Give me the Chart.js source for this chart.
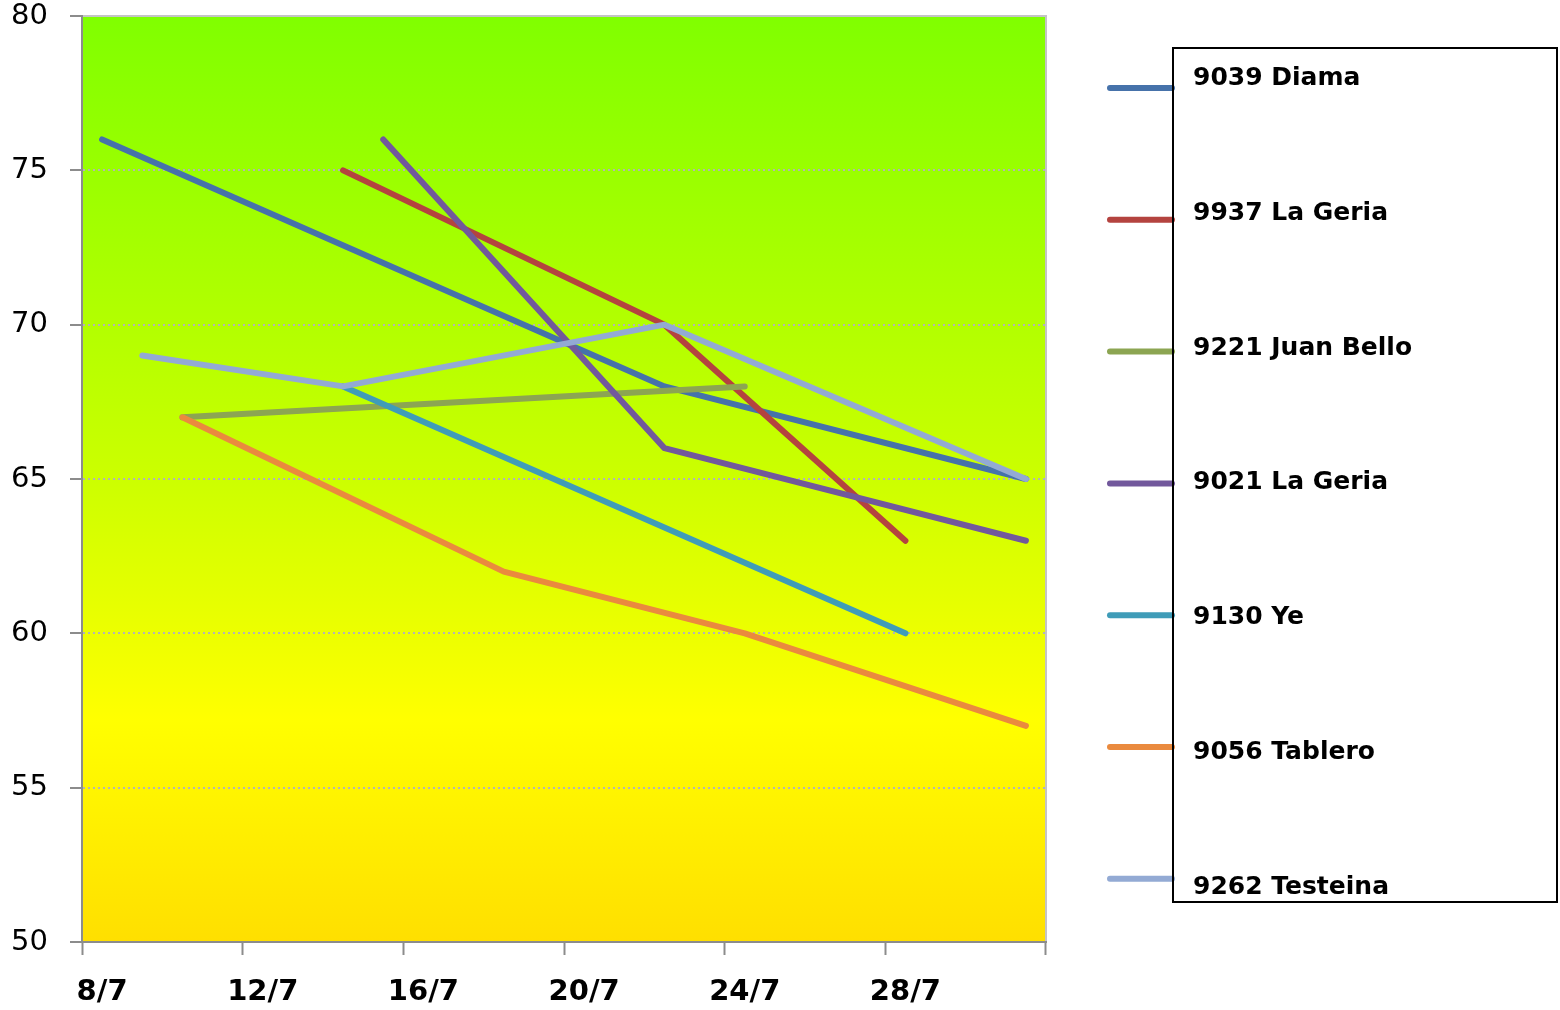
<!DOCTYPE html>
<html>
<head>
<meta charset="utf-8">
<script src="https://cdn.jsdelivr.net/npm/chart.js@4/dist/chart.umd.min.js"></script>
<style>
  html, body { margin: 0; padding: 0; background: #fff; }
  #wrap { width: 1560px; height: 1010px; }
</style>
</head>
<body>
<div id="wrap"><canvas id="chart"></canvas></div>
<script>
// days 8/7 .. 31/7, one slot per day
var days = [];
for (var d = 8; d <= 31; ++d) days.push(d + '/7');

var names = ['9039 Diama', '9937 La Geria', '9221 Juan Bello', '9021 La Geria', '9130 Ye', '9056 Tablero', '9262 Testeina'];
var colors = ['#4672aa', '#b4433f', '#8ca552', '#72589c', '#3f9cb8', '#ea8a3e', '#93aad4'];

var _ = null;
//                0  1  2  3  4  5  6  7  8  9 10 11 12 13 14 15 16 17 18 19 20 21 22 23
var diama     = [76, _, _, _, _, _, _, _, _, _, _, _, _, _, 68, _, _, _, _, _, _, _, _, 65];
var geria9937 = [ _, _, _, _, _, _, 75, _, _, _, _, _, _, _, 70, _, _, _, _, _, 63, _, _, _];
var juanBello = [ _, _, 67, _, _, _, _, _, _, _, _, _, _, _, _, _, 68, _, _, _, _, _, _, _];
var geria9021 = [ _, _, _, _, _, _, _, 76, _, _, _, _, _, _, 66, _, _, _, _, _, _, _, _, 63];
var ye        = [ _, _, _, _, _, _, 68, _, _, _, _, _, _, _, _, _, _, _, _, _, 60, _, _, _];
var tablero   = [ _, _, 67, _, _, _, _, _, _, _, 62, _, _, _, _, _, 60, _, _, _, _, _, _, 57];
var testeina  = [ _, 69, _, _, _, _, 68, _, _, _, _, _, _, _, 70, _, _, _, _, _, _, _, _, 65];

var series = [diama, geria9937, juanBello, geria9021, ye, tablero, testeina];

var plotBg = {
  id: 'plotBg',
  beforeDraw: function(chart) {
    var a = chart.chartArea, c = chart.ctx;
    var g = c.createLinearGradient(0, a.top, 0, a.bottom);
    g.addColorStop(0, '#80ff00');
    g.addColorStop(0.5, '#ccff00');
    g.addColorStop(0.76, '#ffff00');
    g.addColorStop(1, '#ffdf00');
    c.save();
    c.fillStyle = g;
    c.fillRect(a.left, a.top, a.right - a.left, a.bottom - a.top);
    c.strokeStyle = '#c4c4c4';
    c.lineWidth = 2;
    c.strokeRect(a.left, a.top, a.right - a.left, a.bottom - a.top);
    c.restore();
  }
};

var sideLegend = {
  id: 'sideLegend',
  afterDraw: function(chart) {
    var c = chart.ctx;
    c.save();
    c.fillStyle = '#fff';
    c.fillRect(1173, 48, 384, 854);
    chart.data.datasets.forEach(function(ds, i) {
      var ly = 88 + i * 131.8;
      c.strokeStyle = ds.borderColor;
      c.lineWidth = 6;
      c.lineCap = 'round';
      c.beginPath();
      c.moveTo(1110, ly);
      c.lineTo(1172, ly);
      c.stroke();
      c.fillStyle = '#000';
      c.font = 'bold 25px "DejaVu Sans"';
      c.textBaseline = 'alphabetic';
      c.fillText(ds.label, 1193, 85 + i * 134.8);
    });
    c.strokeStyle = '#000';
    c.lineWidth = 2;
    c.strokeRect(1173, 48, 384, 854);
    c.restore();
  }
};

new Chart(document.getElementById('chart'), {
  type: 'line',
  data: {
    labels: days,
    datasets: series.map(function(s, i) {
      return {
        label: names[i],
        data: s,
        borderColor: colors[i],
        backgroundColor: colors[i],
        borderWidth: 6,
        borderCapStyle: 'round',
        borderJoinStyle: 'round',
        pointRadius: 0,
        spanGaps: true,
        order: series.length - i
      };
    })
  },
  options: {
    responsive: true,
    maintainAspectRatio: false,
    animation: false,
    layout: { padding: { top: 16, right: 514, bottom: 0, left: 0 } },
    plugins: { legend: { display: false }, tooltip: { enabled: false } },
    scales: {
      x: {
        type: 'category',
        offset: true,
        afterFit: function(s) { s.height = 68; s.paddingLeft = 0; s.paddingRight = 0; },
        border: { color: '#8c8c8c', width: 2 },
        grid: {
          offset: true,
          drawOnChartArea: false,
          tickLength: 13,
          tickWidth: 2,
          tickColor: function(c) {
            return (c.index === undefined || c.index % 4 === 0) ? '#8c8c8c' : 'rgba(0,0,0,0)';
          }
        },
        ticks: {
          autoSkip: false,
          maxRotation: 0,
          padding: 20,
          color: '#000',
          font: { family: 'DejaVu Sans', size: 29, weight: 'bold' },
          callback: function(v, i) { return i % 4 === 0 ? days[i] : ''; }
        }
      },
      y: {
        min: 50,
        max: 80,
        afterFit: function(s) { s.width = 82; s.paddingTop = 0; s.paddingBottom = 0; },
        border: { color: '#8c8c8c', width: 2, dash: [2, 3] },
        grid: {
          tickLength: 12,
          tickWidth: 2,
          tickColor: '#8c8c8c',
          tickBorderDash: [],
          lineWidth: 2,
          color: function(c) {
            var v = c.tick && c.tick.value;
            return (v === 50 || v === 80) ? 'rgba(0,0,0,0)' : '#b4b4b4';
          }
        },
        ticks: {
          stepSize: 5,
          padding: 22,
          color: '#000',
          font: { family: 'DejaVu Sans', size: 29 }
        }
      }
    }
  },
  plugins: [plotBg, sideLegend]
});
</script>
</body>
</html>
